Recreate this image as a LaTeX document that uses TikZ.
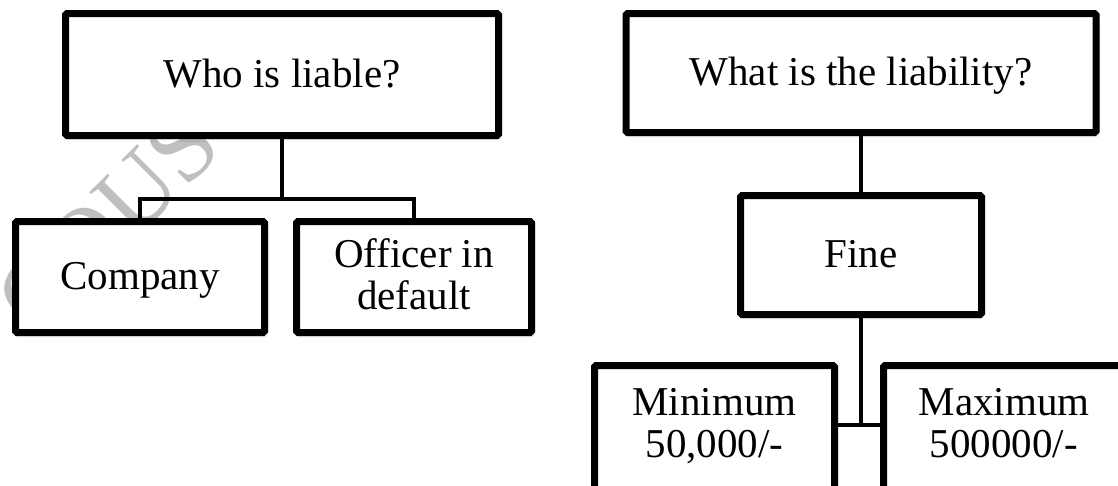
\documentclass[tikz,border=0pt]{standalone}
\usepackage{fontspec}
\setmainfont{Liberation Serif}
\usetikzlibrary{shadows.blur}
\begin{document}
\begin{tikzpicture}[x=1pt, y=-1pt,
  box/.style={draw=black, line width=7pt, fill=white, rounded corners=1.5pt,
    inner xsep=0pt, inner ysep=0pt, align=center, anchor=base,
    font=\fontsize{41pt}{42pt}\selectfont,
    blur shadow={shadow xshift=1.5pt, shadow yshift=-2.5pt,
      shadow blur radius=3pt, shadow opacity=35}},
  conn/.style={draw=black, line width=4pt},
  wmark/.style={text=black!25, font=\fontsize{100pt}{100pt}\selectfont,
    rotate=45, anchor=base west, inner sep=0pt}]
\useasboundingbox (0,0) rectangle (1118,485);
\clip (0,0) rectangle (1118,485);

% faint watermark behind the boxes
\node[wmark] (wm) at (36,339) {COUSTL};

% left tree
\node[box, minimum width=433pt, text height=73.5pt, text depth=48.5pt]
  (who) at (282,87) {Who is liable?};
\node[box, minimum width=249pt, text height=67.5pt, text depth=43.5pt]
  (company) at (140,289) {Company};
\node[box, minimum width=235pt, text height=87.5pt, text depth=23.5pt]
  (officer) at (414,309) {Officer in\\default};
\coordinate (lbus) at (282,199);
\draw[conn] (who.south) -- (lbus);
\draw[conn] (company.north) |- (lbus) -| (officer.north);

% right tree
\node[box, minimum width=470pt, text height=71.5pt, text depth=47.5pt]
  (what) at (861,85) {What is the liability?};
\node[box, minimum width=241pt, text height=71.5pt, text depth=47.5pt]
  (fine) at (861,267) {Fine};
\node[box, minimum width=240pt, text height=91.5pt, text depth=50pt]
  (minb) at (714.5,457) {Minimum\\50,000/-};
\node[box, minimum width=241pt, text height=91.5pt, text depth=50pt]
  (maxb) at (1004,457) {Maximum\\500000/-};
\coordinate (jn) at (861,425);
\draw[conn] (what.south) -- (fine.north);
\draw[conn] (fine.south) -- (jn);
\draw[conn] (minb.east |- jn) -- (maxb.west |- jn);
\end{tikzpicture}
\end{document}
